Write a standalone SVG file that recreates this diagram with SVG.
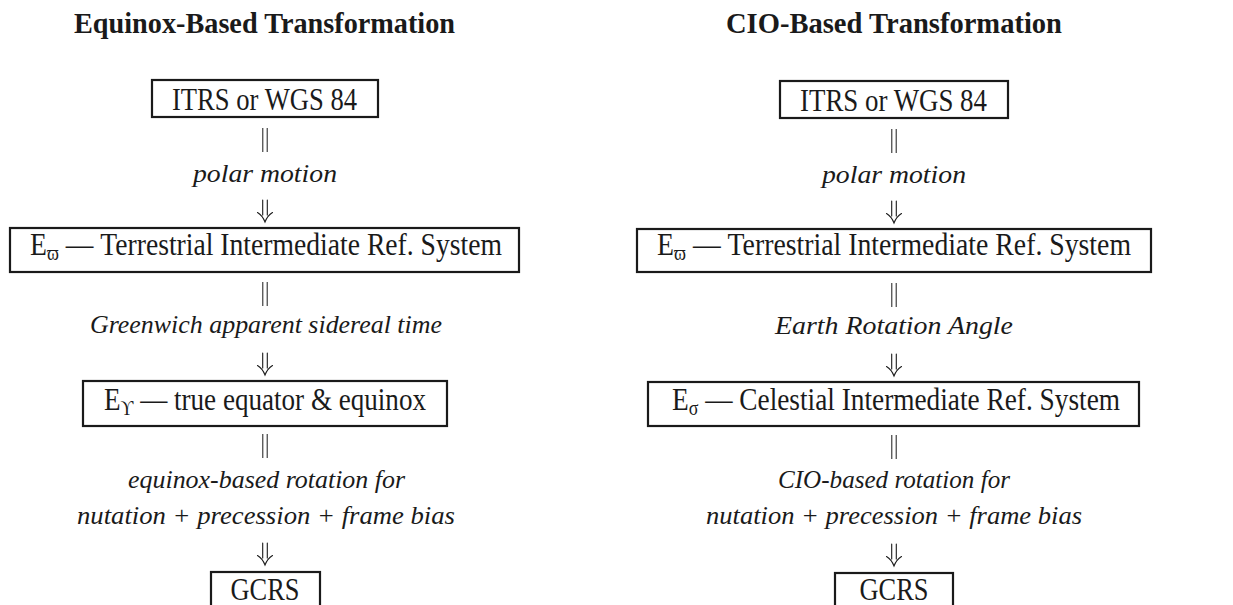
<svg xmlns="http://www.w3.org/2000/svg" width="1233" height="605" viewBox="0 0 1233 605">
<style>
.title{font-family:"Liberation Serif","Times New Roman",serif;font-weight:bold;font-size:29px;fill:#1a1a1a}
.rm{font-family:"Liberation Serif","DejaVu Serif",serif;font-size:32px;fill:#1a1a1a}
.sub{font-size:21px}
.it{font-family:"Liberation Serif","Times New Roman",serif;font-style:italic;font-size:25px;fill:#1a1a1a}
.box{fill:#fff;stroke:#1a1a1a;stroke-width:2.2}
.bar{fill:none;stroke:#1a1a1a;stroke-width:1}
.arr{fill:none;stroke:#1a1a1a;stroke-width:1.1;stroke-linecap:round}
</style>
<defs>
<path id="dbar" class="bar" d="M-2.2,0 V24 M2.2,0 V24"/>
<path id="darr" class="arr" d="M-2.3,0 V15 M2.3,0 V15 M-7.5,12.5 Q-2.5,15.5 0,22 Q2.5,15.5 7.5,12.5"/>
</defs>
<rect width="1233" height="605" fill="#fff"/>

<g id="titles">
<text class="title" x="74" y="33" textLength="381" lengthAdjust="spacingAndGlyphs">Equinox-Based Transformation</text>
<text class="title" x="726" y="33" textLength="336" lengthAdjust="spacingAndGlyphs">CIO-Based Transformation</text>
</g>

<g id="connectors">
<use href="#dbar" x="265" y="128"/>
<use href="#darr" x="265" y="200"/>
<use href="#dbar" x="265" y="282"/>
<use href="#darr" x="265" y="353"/>
<use href="#dbar" x="265" y="434"/>
<use href="#darr" x="265" y="543"/>
<use href="#dbar" x="894" y="129"/>
<use href="#darr" x="894" y="201"/>
<use href="#dbar" x="894" y="283"/>
<use href="#darr" x="894" y="354"/>
<use href="#dbar" x="894" y="435"/>
<use href="#darr" x="894" y="544"/>
</g>

<g id="labels">
<text class="it" x="193" y="182" textLength="144" lengthAdjust="spacingAndGlyphs">polar motion</text>
<text class="it" x="90" y="333" textLength="352" lengthAdjust="spacingAndGlyphs">Greenwich apparent sidereal time</text>
<text class="it" x="128" y="488" textLength="277" lengthAdjust="spacingAndGlyphs">equinox-based rotation for</text>
<text class="it" x="77" y="524" textLength="378" lengthAdjust="spacingAndGlyphs">nutation + precession + frame bias</text>
<text class="it" x="822" y="183" textLength="144" lengthAdjust="spacingAndGlyphs">polar motion</text>
<text class="it" x="775" y="334" textLength="238" lengthAdjust="spacingAndGlyphs">Earth Rotation Angle</text>
<text class="it" x="778" y="488" textLength="232" lengthAdjust="spacingAndGlyphs">CIO-based rotation for</text>
<text class="it" x="706" y="524" textLength="376" lengthAdjust="spacingAndGlyphs">nutation + precession + frame bias</text>
</g>

<g id="L-itrs">
<rect class="box" x="152" y="80" width="226" height="37"/>
<text class="rm" x="172" y="110" textLength="185" lengthAdjust="spacingAndGlyphs">ITRS or WGS 84</text>
</g>
<g id="L-tirs">
<rect class="box" x="10" y="228" width="509" height="44"/>
<text class="rm" x="30" y="255" textLength="472" lengthAdjust="spacingAndGlyphs">E<tspan class="sub" dy="5">ϖ</tspan><tspan dy="-5"> — Terrestrial Intermediate Ref. System</tspan></text>
</g>
<g id="L-true">
<rect class="box" x="83" y="381" width="364" height="45"/>
<text class="rm" x="104" y="410" textLength="322" lengthAdjust="spacingAndGlyphs">E<tspan class="sub" dy="5">ϒ</tspan><tspan dy="-5"> — true equator &amp; equinox</tspan></text>
</g>
<g id="L-gcrs">
<rect class="box" x="211" y="572" width="109" height="42"/>
<text class="rm" x="230.5" y="600" textLength="69" lengthAdjust="spacingAndGlyphs">GCRS</text>
</g>

<g id="R-itrs">
<rect class="box" x="780" y="81" width="228" height="37"/>
<text class="rm" x="800" y="111" textLength="187" lengthAdjust="spacingAndGlyphs">ITRS or WGS 84</text>
</g>
<g id="R-tirs">
<rect class="box" x="637" y="229" width="514" height="43"/>
<text class="rm" x="657" y="255" textLength="474" lengthAdjust="spacingAndGlyphs">E<tspan class="sub" dy="5">ϖ</tspan><tspan dy="-5"> — Terrestrial Intermediate Ref. System</tspan></text>
</g>
<g id="R-cirs">
<rect class="box" x="648" y="382" width="491" height="44"/>
<text class="rm" x="672" y="410" textLength="448" lengthAdjust="spacingAndGlyphs">E<tspan class="sub" dy="5">σ</tspan><tspan dy="-5"> — Celestial Intermediate Ref. System</tspan></text>
</g>
<g id="R-gcrs">
<rect class="box" x="835" y="573" width="118" height="42"/>
<text class="rm" x="859.5" y="600" textLength="69" lengthAdjust="spacingAndGlyphs">GCRS</text>
</g>
</svg>
